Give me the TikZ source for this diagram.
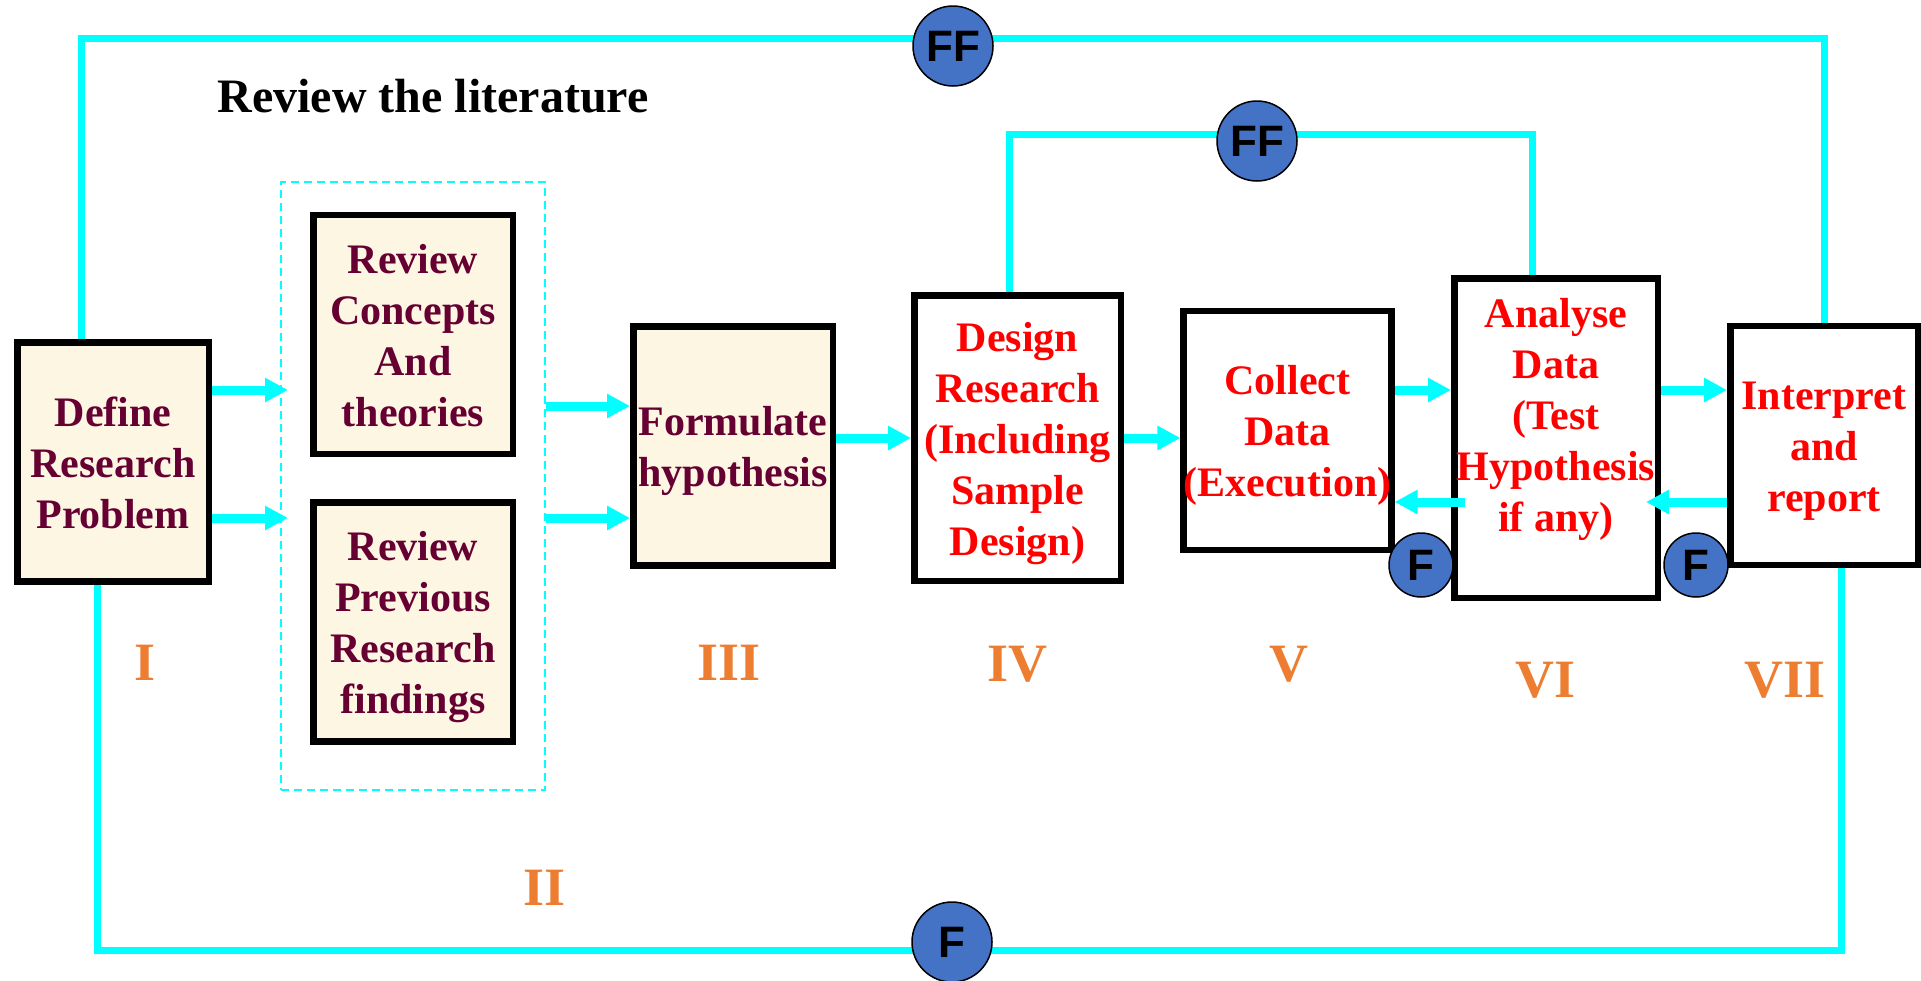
\documentclass[tikz,border=0pt]{standalone}
\usepackage{fontspec}
\setmainfont{Liberation Serif}
\newfontfamily\circfont{Liberation Sans}
\usepackage{xcolor}
\usetikzlibrary{arrows.meta}

\definecolor{aqua}{HTML}{00FFFF}
\definecolor{cream}{HTML}{FDF6E2}
\definecolor{darkwine}{HTML}{660033}
\definecolor{phaseorange}{HTML}{ED7D31}
\definecolor{fbblue}{HTML}{4472C4}

% struts so that every box sets its lines the same way
\newcommand\topstrut{\rule{0pt}{40pt}}
\newcommand\botstrut[1][10pt]{\rule[-#1]{0pt}{#1}}

\begin{document}
\begin{tikzpicture}[x=1pt,y=-1pt,
	phasebox/.style={draw, line width=6.5pt, minimum width=199.5pt, minimum height=239pt, inner sep=0pt, align=center, font=\fontsize{42}{51}\selectfont\bfseries},
	litbox/.style={phasebox, fill=cream, text=darkwine},
	workbox/.style={phasebox, fill=white, text=red},
	flow/.style={draw=aqua, line width=9pt, -{Triangle[length=23pt,width=23pt]}},
	feedback/.style={draw=aqua, line width=7pt},
	fbcirc/.style={circle, draw=black, line width=1.5pt, fill=fbblue, inner sep=0pt, font=\circfont\fontsize{44}{44}\selectfont\bfseries},
	phaselabel/.style={text=phaseorange, font=\fontsize{54}{54}\selectfont\bfseries}]
	\useasboundingbox (0,0) rectangle (1921,980);

	\node [font=\fontsize{48}{48}\selectfont\bfseries] (title) at (433,96) {Review the literature};

	\node [litbox, minimum width=191.5pt] (def) at (113,462) {\topstrut Define\\Research\\Problem\botstrut};
	\node [draw=aqua, line width=2pt, dash pattern=on 8pt off 5pt, minimum width=264pt, minimum height=608pt] (lit) at (413,486) {};
	\node [litbox] (concepts) at (413,334.5) {\topstrut Review\\Concepts\\And\\theories\botstrut};
	\node [litbox] (previous) at (413,622) {\topstrut Review\\Previous\\Research\\findings\botstrut};
	\node [litbox] (form) at (733,446) {\topstrut Formulate\\hypothesis\botstrut};
	\node [workbox, minimum width=206.5pt, minimum height=285.5pt] (design) at (1017.5,438) {\topstrut Design\\Research\\(Including\\Sample\\Design)\botstrut};
	\node [workbox, minimum width=204.5pt] (collect) at (1287.5,430.5) {\topstrut Collect\\Data\\(Execution)\botstrut};
	\node [workbox, minimum width=203.5pt, minimum height=319.5pt] (analyse) at (1556,438) {\topstrut Analyse\\Data\\(Test\\Hypothesis\\if any)\botstrut[58pt]};
	\node [workbox, minimum width=187.5pt] (interp) at (1824,445.5) {\topstrut Interpret\\and\\report\botstrut};

	% feedback loops
	\draw [feedback] (def.north -| 81,0) |- (interp.north |- 0,38) -- (interp.north);
	\draw [feedback] (design.north -| 1009,0) |- (1532,134) -- (analyse.north -| 1532,0);
	\draw [feedback] (def.south -| 97,0) |- (1841,950) -- (interp.south -| 1841,0);

	\draw [flow, shorten >=-8pt] (def.east |- 0,390) -- (lit.west |- 0,390);
	\draw [flow, shorten >=-8pt] (def.east |- 0,518) -- (lit.west |- 0,518);
	\draw [flow] (lit.east |- 0,406) -- (form.west |- 0,406);
	\draw [flow] (lit.east |- 0,518) -- (form.west |- 0,518);
	\draw [flow] (form.east |- 0,438) -- (design.west |- 0,438);
	\draw [flow] (design.east |- 0,438) -- (collect.west |- 0,438);
	\draw [flow] (collect.east |- 0,390) -- (analyse.west |- 0,390);
	\draw [flow] (analyse.east |- 0,390) -- (interp.west |- 0,390);
	\draw [flow, shorten <=-14pt] (analyse.west |- 0,502) -- (collect.east |- 0,502);
	\draw [flow, shorten >=-15pt] (interp.west |- 0,502) -- (analyse.east |- 0,502);

	\node [fbcirc, minimum size=80pt] (ffOuter) at (953,46) {FF};
	\node [fbcirc, minimum size=80pt] (ffInner) at (1257,141) {FF};
	\node [fbcirc, minimum size=80pt] (fOuter) at (952,942) {F};
	\node [fbcirc, minimum size=64pt] (fCollect) at (1421,565) {F};
	\node [fbcirc, minimum size=64pt] (fAnalyse) at (1696,565) {F};

	\node [phaselabel] (one) at (145,663) {I};
	\node [phaselabel] (two) at (545,888) {II};
	\node [phaselabel] (three) at (729,663) {III};
	\node [phaselabel] (four) at (1017,664) {IV};
	\node [phaselabel] (five) at (1289,664) {V};
	\node [phaselabel] (six) at (1545,680) {VI};
	\node [phaselabel] (seven) at (1785,680) {VII};
\end{tikzpicture}
\end{document}
